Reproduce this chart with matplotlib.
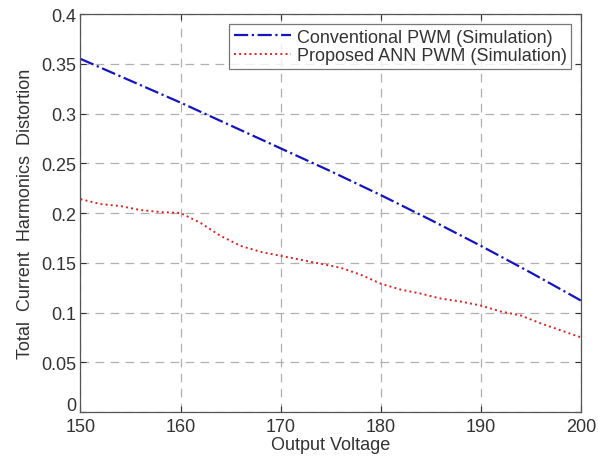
import matplotlib
matplotlib.use("Agg")
import matplotlib.pyplot as plt
import matplotlib.transforms as mtransforms

plt.rcParams['font.family'] = ['Liberation Sans', 'DejaVu Sans']

volt_conv = [150, 155, 160, 165, 170, 175, 180, 185, 190, 195, 200]
thd_conv = [0.355, 0.333, 0.311, 0.288, 0.265, 0.242, 0.218, 0.193, 0.167, 0.140, 0.112]

volt_ann = [150, 152, 154, 156, 158, 160, 162, 164, 166, 168, 170, 172, 174, 176,
            178, 180, 182, 184, 186, 188, 190, 192, 194, 196, 198, 200]
thd_ann = [0.214, 0.209, 0.207, 0.203, 0.201, 0.200, 0.190, 0.177, 0.167, 0.161,
           0.157, 0.153, 0.149, 0.145, 0.138, 0.129, 0.123, 0.119, 0.114, 0.111,
           0.107, 0.101, 0.097, 0.089, 0.082, 0.075]

xticks = [150, 160, 170, 180, 190, 200]
yticks = [0, 0.05, 0.1, 0.15, 0.2, 0.25, 0.3, 0.35, 0.4]
ytick_labels = ['0', '0.05', '0.1', '0.15', '0.2', '0.25', '0.3', '0.35', '0.4']

fig = plt.figure(figsize=(5.98, 4.60), dpi=100)
ax = fig.add_axes([0.1346, 0.1022, 0.837, 0.865])

ax.plot(volt_conv, thd_conv, linestyle='-.', color='#1414c0', linewidth=1.6,
        label='Conventional PWM (Simulation)')
ax.plot(volt_ann, thd_ann, linestyle=':', color='#e02020', linewidth=1.4,
        label='Proposed ANN PWM (Simulation)')

ax.set_xlim(150, 200)
ax.set_ylim(0, 0.4)
ax.set_xticks(xticks)
ax.set_yticks(yticks)
ax.set_yticklabels(ytick_labels)
ax.grid(True, linestyle=(0, (7, 5)), color='#b0b0b0', linewidth=0.9)
ax.tick_params(direction='in', length=4, labelsize=13, colors='#333333',
               top=True, right=True)
ax.tick_params(axis='x', pad=4)
ax.tick_params(axis='y', pad=3)
for s in ax.spines.values():
    s.set_color('#555555')
    s.set_linewidth(0.9)

# raise the "0" y tick label slightly so it sits above the "150" label
zero_lbl = ax.get_yticklabels()[0]
zero_lbl.set_transform(zero_lbl.get_transform() +
                       mtransforms.ScaledTranslation(0, 6 / 72, fig.dpi_scale_trans))

ax.set_xlabel('Output Voltage', fontsize=13, color='#333333', labelpad=1)
ax.set_ylabel('Total  Current  Harmonics  Distortion', fontsize=13, color='#333333', labelpad=5)

leg = ax.legend(loc='upper right', fontsize=13, frameon=True, fancybox=False,
                edgecolor='#555555', borderpad=0.25, handlelength=3.2,
                handletextpad=0.3, labelspacing=0.1, borderaxespad=0.55)
leg.get_frame().set_linewidth(0.9)
for t in leg.get_texts():
    t.set_color('#333333')

fig.savefig('out.png', dpi=100)
